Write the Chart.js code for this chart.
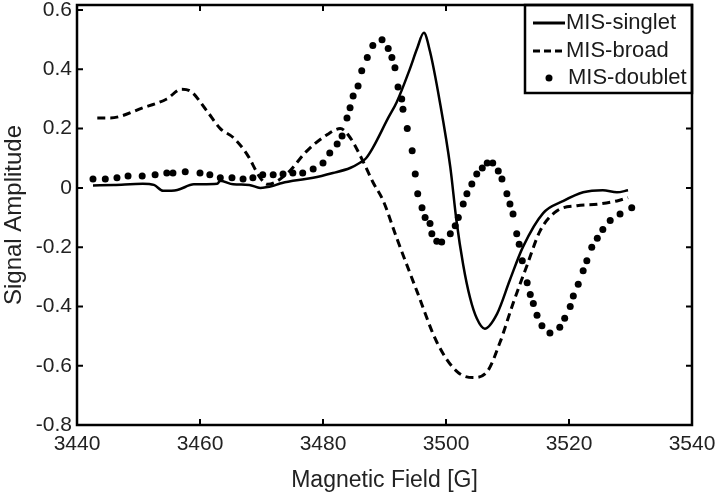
<!DOCTYPE html>
<html>
<head>
<meta charset="utf-8">
<script src="https://cdn.jsdelivr.net/npm/chart.js@4.4.1/dist/chart.umd.min.js"></script>
<style>
  html, body { margin: 0; padding: 0; background: #fff; }
  #wrap { width: 720px; height: 494px; }
</style>
</head>
<body>
<div id="wrap"><canvas id="eprChart"></canvas></div>
<script>
// tick labels
var xTicks = [3440, 3460, 3480, 3500, 3520, 3540];
var yTicks = [-0.8, -0.6, -0.4, -0.2, 0, 0.2, 0.4, 0.6];

// MIS-singlet (solid)
var singletX = [3442.6, 3446, 3450.7, 3452.5, 3454, 3456.3, 3459, 3462.8, 3463.3, 3465.4, 3468, 3469.8, 3471.9, 3473, 3475.1, 3478.4, 3481.6, 3484.4, 3486, 3487, 3488.1, 3490.6, 3492, 3494.1, 3495.3, 3496.4, 3497.4, 3499, 3500.7, 3501.7, 3502.8, 3503.9, 3505, 3506.3, 3508.3, 3510.4, 3512.5, 3515.8, 3519, 3522.3, 3525.5, 3527.8, 3529.6];
var singletY = [0.008, 0.01, 0.014, 0.01, -0.01, -0.007, 0.012, 0.014, 0.024, 0.012, 0.01, 0, 0.007, 0.015, 0.024, 0.034, 0.05, 0.067, 0.085, 0.1, 0.135, 0.236, 0.29, 0.4, 0.47, 0.523, 0.46, 0.29, 0.07, -0.11, -0.26, -0.37, -0.44, -0.475, -0.425, -0.31, -0.2, -0.085, -0.045, -0.015, -0.008, -0.015, -0.008];

// MIS-broad (dashed)
var broadX = [3443.3, 3445.4, 3450.7, 3454.6, 3457, 3458.4, 3461.1, 3463.3, 3465.4, 3467.6, 3469.8, 3471, 3474.1, 3477.4, 3480.7, 3482.8, 3484.4, 3486.5, 3488.1, 3489.8, 3492, 3495.3, 3498.5, 3501.8, 3504.4, 3506.7, 3508.8, 3510.9, 3513.2, 3515.3, 3518, 3521.3, 3524.6, 3527.8, 3529.6];
var broadY = [0.236, 0.236, 0.27, 0.30, 0.333, 0.327, 0.26, 0.2, 0.17, 0.115, 0.034, 0.012, 0.047, 0.125, 0.18, 0.2, 0.17, 0.09, 0.02, -0.044, -0.17, -0.35, -0.52, -0.62, -0.64, -0.62, -0.52, -0.39, -0.26, -0.145, -0.078, -0.06, -0.055, -0.044, -0.033];

// MIS-doublet (dots)
var doubletX = [3442.6, 3444.6, 3446.5, 3448.3, 3450.6, 3452.7, 3454.6, 3455.6, 3457.6, 3460, 3461.6, 3463.3, 3465.2, 3467, 3468.6, 3470.2, 3471.9, 3473.5, 3475.1, 3476.7, 3478.4, 3480, 3481.1, 3482.3, 3483.1, 3483.9, 3484.4, 3484.9, 3485.7, 3486.3, 3487.2, 3488.1, 3489.6, 3490.6, 3491.2, 3491.7, 3492.2, 3492.8, 3493, 3493.7, 3494.5, 3495, 3495.4, 3496.1, 3496.6, 3497.4, 3497.7, 3498.5, 3499.3, 3500.7, 3501.5, 3502, 3502.8, 3503.4, 3504.2, 3505, 3505.9, 3506.7, 3507.6, 3508.5, 3509.1, 3509.9, 3510.4, 3510.9, 3511.5, 3511.9, 3512.4, 3513.2, 3513.7, 3514.2, 3514.8, 3515.6, 3516.9, 3518.5, 3519.3, 3520.2, 3520.7, 3521.5, 3522.3, 3522.9, 3523.7, 3524.6, 3525.5, 3526.7, 3528.3, 3530.2];
var doubletY = [0.03, 0.03, 0.034, 0.04, 0.04, 0.044, 0.05, 0.05, 0.054, 0.05, 0.044, 0.034, 0.034, 0.03, 0.034, 0.044, 0.044, 0.047, 0.05, 0.05, 0.064, 0.084, 0.118, 0.148, 0.175, 0.236, 0.27, 0.31, 0.344, 0.395, 0.44, 0.48, 0.50, 0.47, 0.44, 0.405, 0.34, 0.30, 0.265, 0.20, 0.125, 0.047, -0.02, -0.067, -0.10, -0.12, -0.155, -0.18, -0.183, -0.155, -0.128, -0.1, -0.054, -0.02, 0.013, 0.047, 0.067, 0.084, 0.084, 0.057, 0.03, -0.02, -0.054, -0.088, -0.155, -0.19, -0.246, -0.32, -0.36, -0.39, -0.43, -0.465, -0.49, -0.47, -0.44, -0.40, -0.365, -0.325, -0.28, -0.246, -0.2, -0.17, -0.14, -0.11, -0.088, -0.067];

var labels = ["MIS-singlet", "MIS-broad", "MIS-doublet"];

function pts(xs, ys) {
  return xs.map(function (x, i) { return { x: x, y: ys[i] }; });
}

var FONT = "'Liberation Sans', Arial, sans-serif";

// inward tick marks + box frame, MATLAB style
var framePlugin = {
  id: 'frame',
  beforeDatasetsDraw: function (chart) {
    var ctx = chart.ctx, a = chart.chartArea;
    var xs = chart.scales.x, ys = chart.scales.y;
    ctx.save();
    ctx.strokeStyle = '#000';
    ctx.lineWidth = 2;
    ctx.beginPath();
    xTicks.forEach(function (v) {
      var px = xs.getPixelForValue(v);
      ctx.moveTo(px, a.bottom); ctx.lineTo(px, a.bottom - 6);
      ctx.moveTo(px, a.top); ctx.lineTo(px, a.top + 6);
    });
    yTicks.forEach(function (v) {
      var py = ys.getPixelForValue(v);
      ctx.moveTo(a.left, py); ctx.lineTo(a.left + 6, py);
      ctx.moveTo(a.right, py); ctx.lineTo(a.right - 6, py);
    });
    ctx.stroke();
    ctx.restore();
  },
  afterDraw: function (chart) {
    var ctx = chart.ctx, a = chart.chartArea;
    ctx.save();
    // legend box
    var bx = 525, by = a.top, bw = a.right - 525, bh = 88;
    ctx.fillStyle = '#fff';
    ctx.fillRect(bx, by, bw, bh);
    ctx.strokeStyle = '#000';
    ctx.lineWidth = 2.5;
    ctx.strokeRect(bx, by, bw, bh);
    var rows = [a.top + 18, a.top + 46, a.top + 73];
    ctx.font = '22px ' + FONT;
    ctx.textBaseline = 'middle';
    ctx.textAlign = 'left';
    chart.data.datasets.forEach(function (ds, i) {
      var ry = rows[i];
      ctx.strokeStyle = '#000';
      ctx.fillStyle = '#000';
      if (i === 0) {
        ctx.lineWidth = 3; ctx.setLineDash([]);
        ctx.beginPath(); ctx.moveTo(533, ry); ctx.lineTo(565, ry); ctx.stroke();
      } else if (i === 1) {
        ctx.lineWidth = 3; ctx.setLineDash([7, 4]);
        ctx.beginPath(); ctx.moveTo(533, ry); ctx.lineTo(566, ry); ctx.stroke();
        ctx.setLineDash([]);
      } else {
        ctx.beginPath(); ctx.arc(549, ry, 3.5, 0, Math.PI * 2); ctx.fill();
      }
      ctx.fillStyle = '#1a1a1a';
      ctx.fillText(ds.label, i === 2 ? 568 : 566, ry);
    });
    // plot frame
    ctx.strokeStyle = '#000';
    ctx.lineWidth = 2.5;
    ctx.strokeRect(a.left, a.top, a.right - a.left, a.bottom - a.top);
    ctx.restore();
  }
};

var ctx = document.getElementById('eprChart').getContext('2d');
var eprChart = new Chart(ctx, {
  type: 'scatter',
  data: {
    datasets: [{
      label: labels[0],
      data: pts(singletX, singletY),
      showLine: true,
      borderColor: '#000',
      borderWidth: 2.5,
      pointRadius: 0,
      cubicInterpolationMode: 'monotone'
    }, {
      label: labels[1],
      data: pts(broadX, broadY),
      showLine: true,
      borderColor: '#000',
      borderWidth: 3,
      borderDash: [8, 5],
      pointRadius: 0,
      cubicInterpolationMode: 'monotone'
    }, {
      label: labels[2],
      data: pts(doubletX, doubletY),
      showLine: false,
      pointRadius: 3.5,
      pointBackgroundColor: '#000',
      pointBorderWidth: 0
    }]
  },
  options: {
    responsive: true,
    maintainAspectRatio: false,
    animation: false,
    layout: { padding: { left: 0, right: 28, top: 5, bottom: 0 } },
    plugins: {
      legend: { display: false },
      tooltip: { enabled: false }
    },
    scales: {
      x: {
        type: 'linear',
        min: 3440,
        max: 3540,
        afterBuildTicks: function (s) { s.ticks = xTicks.map(function (v) { return { value: v }; }); },
        afterFit: function (s) { s.height = 69; s.paddingLeft = 0; s.paddingRight = 0; },
        grid: { display: false, drawTicks: false },
        border: { display: false },
        ticks: {
          padding: 7,
          maxRotation: 0,
          color: '#222',
          font: { family: FONT, size: 21 },
          callback: function (v) { return String(v); }
        },
        title: {
          display: true,
          text: 'Magnetic Field [G]',
          color: '#222',
          font: { family: FONT, size: 23 },
          padding: { top: 8, bottom: 0 }
        }
      },
      y: {
        type: 'linear',
        min: -0.8,
        max: 0.617,
        afterBuildTicks: function (s) { s.ticks = yTicks.map(function (v) { return { value: v }; }); },
        afterFit: function (s) { s.width = 77; s.paddingTop = 0; s.paddingBottom = 0; },
        grid: { display: false, drawTicks: false },
        border: { display: false },
        ticks: {
          padding: 5,
          color: '#222',
          font: { family: FONT, size: 21 },
          callback: function (v) { return String(Math.round(v * 10) / 10); }
        },
        title: {
          display: true,
          text: 'Signal Amplitude',
          color: '#222',
          font: { family: FONT, size: 24 },
          padding: { top: 0, bottom: 0 }
        }
      }
    }
  },
  plugins: [framePlugin]
});
</script>
</body>
</html>
